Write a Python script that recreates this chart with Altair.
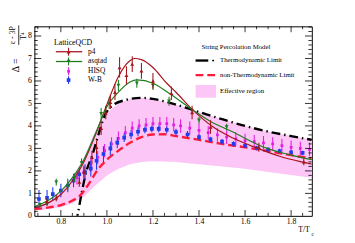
import altair as alt
import pandas as pd
import numpy as np

# ---------------- data ----------------
# String percolation: thermodynamic limit (black dash-dot)
thermo_T = [0.866, 0.872, 0.89, 0.91, 0.935, 0.96, 0.99, 1.03, 1.08, 1.15, 1.2, 1.3, 1.4, 1.5, 1.6, 1.7, 1.8, 1.89]
thermo_D = [-0.3, 0.0, 1.0, 1.95, 2.65, 3.5, 4.45, 4.95, 5.15, 5.25, 5.2, 4.95, 4.62, 4.3, 4.0, 3.75, 3.55, 3.38]
# non-thermodynamic limit (red dashed)
nonth_T = [0.685, 0.75, 0.8, 0.85, 0.88, 0.92, 0.96, 1.0, 1.05, 1.1, 1.15, 1.2, 1.25, 1.3, 1.4, 1.5, 1.6, 1.7, 1.8, 1.89]
nonth_D = [0.3, 0.38, 0.48, 0.68, 0.87, 1.4, 2.05, 2.5, 2.9, 3.25, 3.5, 3.62, 3.63, 3.55, 3.38, 3.2, 3.05, 2.88, 2.7, 2.55]
# effective region (pink band)
band_T = [0.685, 0.75, 0.8, 0.85, 0.9, 0.95, 1.0, 1.05, 1.1, 1.15, 1.2, 1.3, 1.4, 1.5, 1.6, 1.7, 1.8, 1.89]
band_hi = [0.35, 0.65, 1.05, 1.7, 2.6, 3.8, 4.6, 5.0, 5.2, 5.25, 5.2, 4.95, 4.62, 4.3, 4.0, 3.75, 3.55, 3.4]
band_lo = [0.24, 0.3, 0.38, 0.55, 0.85, 1.35, 1.8, 2.1, 2.3, 2.4, 2.43, 2.4, 2.3, 2.2, 2.1, 1.95, 1.82, 1.7]

# lattice fit curves
p4c_T = [0.685, 0.75, 0.8, 0.85, 0.9, 0.95, 1.0, 1.05, 1.1, 1.12, 1.15, 1.2, 1.26, 1.3, 1.374, 1.46, 1.55, 1.655, 1.75, 1.855, 1.89]
p4c_D = [0.35, 0.6, 0.95, 1.55, 2.4, 3.6, 4.95, 6.2, 6.9, 7.0, 6.95, 6.6, 5.9, 5.5, 4.7, 3.96, 3.45, 3.0, 2.65, 2.38, 2.3]
aqc_T = [0.685, 0.75, 0.8, 0.85, 0.9, 0.95, 1.0, 1.05, 1.1, 1.13, 1.2, 1.27, 1.374, 1.45, 1.545, 1.685, 1.8, 1.89]
aqc_D = [0.42, 0.72, 1.1, 1.7, 2.5, 3.65, 4.85, 5.5, 5.95, 6.05, 5.9, 5.45, 4.7, 4.2, 3.74, 3.04, 2.7, 2.5]

# lattice data points
p4_T = [0.74, 0.78, 0.88, 0.90, 0.935, 0.955, 0.975, 0.995, 1.015, 1.035, 1.055, 1.085, 1.11, 1.15, 1.2, 1.28, 1.37, 1.45, 1.66, 1.855]
p4_D = [0.65, 0.8, 1.5, 1.95, 2.6, 3.05, 3.9, 4.6, 5.05, 5.5, 6.6, 6.25, 6.75, 6.45, 6.0, 5.45, 4.6, 3.95, 3.05, 2.4]
p4_E = [0.15, 0.15, 0.2, 0.25, 0.3, 0.3, 0.3, 0.3, 0.3, 0.35, 0.45, 0.4, 0.35, 0.35, 0.35, 0.3, 0.3, 0.3, 0.2, 0.15]

aq_T = [0.71, 0.74, 0.78, 0.83, 0.86, 0.89, 0.975, 1.01, 1.05, 1.13, 1.2, 1.27, 1.4, 1.52]
aq_D = [0.5, 0.55, 1.5, 1.3, 1.7, 2.35, 4.55, 5.0, 5.8, 5.9, 5.8, 5.1, 4.25, 3.95]
aq_E = [0.1, 0.1, 0.15, 0.15, 0.2, 0.2, 0.25, 0.25, 0.25, 0.2, 0.2, 0.2, 0.15, 0.15]

hisq_T = [0.87, 0.90, 0.93, 0.96, 0.99, 1.02, 1.05, 1.08, 1.11, 1.14, 1.17, 1.20, 1.23, 1.26, 1.29, 1.32, 1.36, 1.40,
          1.44, 1.48, 1.52, 1.56, 1.60, 1.64, 1.68, 1.72, 1.76, 1.80, 1.84, 1.88]
hisq_D = [1.7, 1.95, 2.25, 2.6, 2.9, 3.2, 3.45, 3.7, 3.9, 4.0, 4.05, 4.1, 4.1, 4.1, 4.05, 4.0, 3.9, 3.8,
          3.7, 3.6, 3.5, 3.42, 3.35, 3.3, 3.25, 3.2, 3.12, 3.05, 3.0, 2.96]
hisq_E = [0.3] * len(hisq_T)

wb_T = [0.705, 0.74, 0.765, 0.80, 0.83, 0.855, 0.88, 0.905, 0.93, 0.955, 0.985, 1.015, 1.045, 1.075, 1.105, 1.135,
        1.165, 1.195, 1.225, 1.26, 1.30, 1.35, 1.40, 1.45, 1.50, 1.55, 1.60, 1.65, 1.70, 1.75, 1.80, 1.85]
wb_D = [0.75, 0.8, 0.97, 1.13, 1.35, 1.57, 1.85, 1.95, 2.1, 2.45, 2.75, 3.0, 3.26, 3.48, 3.62, 3.74,
        3.83, 3.87, 3.87, 3.83, 3.73, 3.62, 3.5, 3.4, 3.3, 3.2, 3.12, 3.02, 2.95, 2.88, 2.83, 2.8]
wb_E = [0.4, 0.35, 0.3, 0.3, 0.3, 0.3, 0.3, 0.35, 0.35, 0.4, 0.35, 0.3, 0.25, 0.2, 0.2, 0.2,
        0.15, 0.15, 0.15, 0.15, 0.15, 0.15, 0.12, 0.12, 0.12, 0.12, 0.1, 0.1, 0.1, 0.1, 0.1, 0.1]

x_labels = [0.8, 1.0, 1.2, 1.4, 1.6, 1.8]
y_labels = [0, 1, 2, 3, 4, 5, 6, 7, 8]

# ---------------- layout ----------------
X_DOM = [0.685, 1.89]
Y_DOM = [0, 8.43]
W, H = 284, 194
FONT = "Liberation Serif"

C_P4 = "#a8141c"
C_AQ = "#1f7d1f"
C_HISQ = "#e11ee1"
C_WB = "#1f3cf0"
C_RED = "#ff1a3a"
C_PINK = "#fcc6f6"

xs = alt.Scale(domain=X_DOM, nice=False, zero=False)
ys = alt.Scale(domain=Y_DOM, nice=False, zero=False)
AX_X = alt.Axis(values=x_labels, format=".1f", ticks=False, domain=False, grid=False,
                labelFont=FONT, labelFontSize=8, labelColor="black", labelPadding=2, title=None)
AX_Y = alt.Axis(values=y_labels, format="d", ticks=False, domain=False, grid=False,
                labelFont=FONT, labelFontSize=8, labelColor="black", labelPadding=3, title=None)


def X(f="T"):
    return alt.X(f, type="quantitative", scale=xs, axis=AX_X)


def Y(f="D"):
    return alt.Y(f, type="quantitative", scale=ys, axis=AX_Y)


band = alt.Chart(pd.DataFrame({"T": band_T, "lo": band_lo, "hi": band_hi})).mark_area(
    color=C_PINK, opacity=1, clip=True
).encode(x=X(), y=Y("lo"), y2="hi:Q")


def curve(T, D, color, width, dash=None):
    kw = dict(color=color, strokeWidth=width, clip=True, interpolate="monotone")
    if dash:
        kw["strokeDash"] = dash
    return alt.Chart(pd.DataFrame({"T": T, "D": D})).mark_line(**kw).encode(x=X(), y=Y())


thermo = curve(thermo_T, thermo_D, "black", 2.4, [9, 4, 1.5, 4])
nonth = curve(nonth_T, nonth_D, C_RED, 2.4, [8, 4])
p4c = curve(p4c_T, p4c_D, C_P4, 1.2)
aqc = curve(aqc_T, aqc_D, C_AQ, 1.2)


def points(T, D, E, color, shape, size):
    df = pd.DataFrame({"T": T, "D": D, "lo": np.array(D) - np.array(E), "hi": np.array(D) + np.array(E)})
    base = alt.Chart(df)
    err = base.mark_rule(color=color, strokeWidth=1.1, clip=True).encode(x=X(), y=Y("lo"), y2="hi")
    pts = base.mark_point(shape=shape, filled=True, color=color, size=size, opacity=1, clip=True).encode(x=X(), y=Y())
    return [err, pts]


layers = [band, thermo, nonth]
layers += points(hisq_T, hisq_D, hisq_E, C_HISQ, "square", 8)
layers += points(wb_T, wb_D, wb_E, C_WB, "square", 14)
layers += [p4c, aqc]
layers += points(aq_T, aq_D, aq_E, C_AQ, "triangle-down", 16)
layers += points(p4_T, p4_D, p4_E, C_P4, "triangle-up", 16)

# ---------------- inward ticks on all four sides ----------------
x_major = [0.8, 1.0, 1.2, 1.4, 1.6, 1.8]
x_minor = [round(v, 3) for v in np.arange(0.70, 1.89, 0.05) if round(v, 3) not in x_major]
y_major = [1, 2, 3, 4, 5, 6, 7, 8]
y_minor = [round(v, 2) for v in np.arange(0.2, 8.43, 0.2) if abs(v - round(v)) > 1e-6]


def xticks(vals, ln):
    d = alt.Chart(pd.DataFrame({"T": vals}))
    return [
        d.mark_rule(color="black", strokeWidth=0.8).encode(x=X(), y=alt.value(H), y2=alt.value(H - ln)),
        d.mark_rule(color="black", strokeWidth=0.8).encode(x=X(), y=alt.value(0), y2=alt.value(ln)),
    ]


def yticks(vals, ln):
    d = alt.Chart(pd.DataFrame({"D": vals}))
    return [
        d.mark_rule(color="black", strokeWidth=0.8).encode(y=Y(), x=alt.value(0), x2=alt.value(ln)),
        d.mark_rule(color="black", strokeWidth=0.8).encode(y=Y(), x=alt.value(W), x2=alt.value(W - ln)),
    ]


layers += xticks(x_major, 6) + xticks(x_minor, 3) + yticks(y_major, 7) + yticks(y_minor, 3.5)

# ---------------- legends ----------------
one = pd.DataFrame({"k": [0]})


def txt(s, x, y, size=7.5, align="left", angle=0, color="black"):
    return alt.Chart(pd.DataFrame({"t": [s]})).mark_text(
        font=FONT, fontSize=size, align=align, baseline="middle", angle=angle, color=color
    ).encode(x=alt.value(x), y=alt.value(y), text="t:N")


def hline(x1, x2, y, color, width, dash=None):
    kw = dict(color=color, strokeWidth=width)
    if dash:
        kw["strokeDash"] = dash
    return alt.Chart(one).mark_rule(**kw).encode(x=alt.value(x1), x2=alt.value(x2), y=alt.value(y))


def vline(x, y1, y2, color, width):
    return alt.Chart(one).mark_rule(color=color, strokeWidth=width).encode(x=alt.value(x), y=alt.value(y1), y2=alt.value(y2))


def marker(x, y, color, shape, size):
    return alt.Chart(one).mark_point(shape=shape, filled=True, color=color, size=size, opacity=1).encode(
        x=alt.value(x), y=alt.value(y))


leg = [txt("LatticeQCD", 20, 17, 8)]
for lab, yy, col, shp, sz, line in [("p4", 26, C_P4, "triangle-up", 16, True),
                                    ("asqtad", 36, C_AQ, "triangle-down", 16, True),
                                    ("HISQ", 46, C_HISQ, "square", 8, False),
                                    ("W-B", 55, C_WB, "square", 14, False)]:
    if line:
        leg.append(hline(22, 49, yy, col, 1.3))
    leg.append(vline(35, yy - 4, yy + 4, col, 1.1))
    leg.append(marker(35, yy, col, shp, sz))
    leg.append(txt(lab, 55, yy, 7.5))

leg += [
    txt("String Percolation Model", 171, 21, 7),
    hline(165, 178, 35, "black", 2.4),
    hline(182, 184, 35, "black", 1.5),
    txt("Thermodynamic Limit", 190, 35, 7),
    hline(165, 187, 50, C_RED, 2.4, [8, 4]),
    txt("non-Thermodynamic Limit", 190, 50, 7),
    alt.Chart(one).mark_rect(color=C_PINK).encode(x=alt.value(165), x2=alt.value(186), y=alt.value(60), y2=alt.value(73)),
    txt("Effective region", 190, 66, 7),
]

# axis titles
leg += [
    txt("Δ =", -18.5, 40, 10, align="center", angle=270),
    txt("ε - 3P", -21.5, 9, 8, align="center", angle=270),
    alt.Chart(one).mark_rule(color="black", strokeWidth=0.8).encode(x=alt.value(-16), y=alt.value(-1), y2=alt.value(19)),
    txt("T⁴", -10.5, 10, 8, align="center", angle=270),
    txt("T/T", 282, 209, 8, align="right"),
    txt("c", 285, 213, 5.5, align="center"),
]

layers += leg

chart = alt.layer(*layers).properties(
    width=W, height=H,
    autosize=alt.AutoSizeParams(type="none"),
    padding={"left": 27, "top": 16, "right": 36, "bottom": 25},
).configure_view(stroke="black", strokeWidth=1)

chart.save("out.html", embed_options={"renderer": "svg", "actions": False})
